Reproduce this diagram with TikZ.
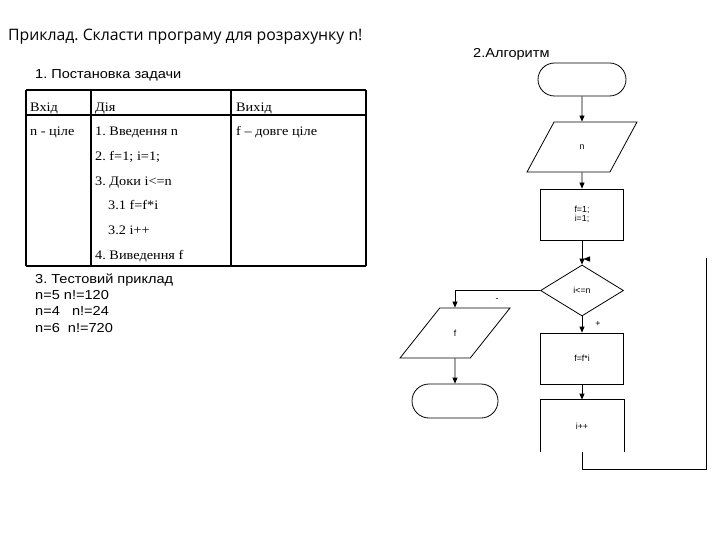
\documentclass[tikz,border=0pt]{standalone}
\usepackage{fontspec}
\setmainfont{Liberation Serif}
\newfontfamily\arialf{Liberation Sans}
\newfontfamily\arialw[FakeStretch=1.12]{Liberation Sans}
\newfontfamily\tabf[FakeStretch=1.1]{Liberation Serif}
\newfontfamily\titlef{Open Sans}
\usetikzlibrary{shapes.geometric,arrows.meta}
\frenchspacing
\begin{document}
\begin{tikzpicture}[x=1pt,y=-1pt,
  fl/.style={draw=black, line width=0.8pt},
  arr/.style={fl,-{Triangle[length=6pt,width=5pt]}},
  small/.style={font=\arialf\fontsize{8.8}{10}\selectfont},
  term/.style={fl, rounded corners=16.5pt, minimum width=88pt, minimum height=33pt, inner sep=0pt},
  para/.style={fl, trapezium, trapezium left angle=63.43, trapezium right angle=116.57,
    trapezium stretches=true, minimum width=110pt, minimum height=50pt, inner sep=0pt, small},
  proc/.style={fl, rectangle, minimum width=83pt, minimum height=51pt, inner sep=0pt, small, align=center},
  cond/.style={fl, diamond, aspect=1.6, minimum width=83pt, minimum height=51pt, inner sep=0pt, small},
  tbl/.style={line width=1.1pt},
  ttext/.style={anchor=base west, inner sep=0pt, font=\tabf\fontsize{13}{15}\selectfont},
  stext/.style={anchor=base west, inner sep=0pt, font=\arialw\fontsize{13}{15}\selectfont},
  lbl/.style={inner sep=0pt, small}
]
\useasboundingbox (0,0) rectangle (720,540);

% headings
\node[anchor=base west, inner sep=0pt, font=\titlef\fontsize{15.8}{18}\selectfont] (title) at (8,40.5) {Приклад. Скласти програму для розрахунку n!};
\node[stext] (h1) at (35,78.3) {1. Постановка задачи};
\node[stext] (h2) at (473,57.3) {2.Алгоритм};

% table
\draw[tbl] (26,90) -- (366,90);
\draw[tbl] (26,115) -- (366,115);
\draw[tbl] (26,266) -- (366,266);
\draw[tbl] (26,90) -- (26,266);
\draw[tbl] (91,90) -- (91,266);
\draw[tbl] (231,90) -- (231,266);
\draw[tbl] (366,90) -- (366,266);

\node[ttext] (c11) at (30,111.5) {Вхід};
\node[ttext] (c12) at (95,111.5) {Дія};
\node[ttext] (c13) at (236,111.5) {Вихід};
\node[ttext] (c21) at (30,136) {n - ціле};
\node[ttext] (c22) at (95,136) {1. Введення n};
\node[ttext] (c23) at (236,136) {f – довге ціле};
\node[ttext] (r2) at (95,160.7) {2. f=1; i=1;};
\node[ttext] (r3) at (95,185.4) {3. Доки i<=n};
\node[ttext] (r31) at (108,210) {3.1 f=f*i};
\node[ttext] (r32) at (108,234.8) {3.2 i++};
\node[ttext] (r4) at (95,259.5) {4. Виведення f};

% test example
\node[stext] (t0) at (35,283) {3. Тестовий приклад};
\node[stext] (t1) at (35,299.5) {n=5 n!=120};
\node[stext] (t2) at (35,315.8) {n=4\ \ \ n!=24};
\node[stext] (t3) at (35,332) {n=6\ \ n!=720};

% flowchart
\node[term] (start) at (582,79.5) {};
\node[para] (inp) at (582,147) {n};
\node[proc] (init) at (582,214.5) {f=1;\\[-1.5pt]i=1;};
\node[cond] (test) at (582,290.5) {i<=n};
\node[para] (out) at (455,333) {f};
\node[term, minimum width=86pt, minimum height=34pt, rounded corners=17pt] (stop) at (455,401) {};
\node[proc] (mul) at (582,358.5) {f=f*i};
\node[proc, draw=none, minimum height=52pt] (inc) at (582,426) {i++};
\coordinate (loopR) at (706,258);

\draw[arr] (start) -- (inp);
\draw[arr] (inp) -- (init);
\draw[arr] (init) -- (test);
\draw[arr] (test.west) -| (out.north);
\draw[arr] (out) -- (stop);
\draw[arr] (test) -- (mul);
\draw[arr] (mul) -- (inc.north);
\draw[fl] (inc.south west) -- (inc.north west) -- (inc.north east) -- (inc.south east);
\draw[fl] (inc.south) -- ++(0,17) -| (loopR);
\fill (583.5,259) -- (590,256.3) -- (590,261.7) -- cycle;

\node[lbl] (minus) at (497,300) {-};
\node[lbl] (plus) at (598,324) {+};
\end{tikzpicture}
\end{document}
